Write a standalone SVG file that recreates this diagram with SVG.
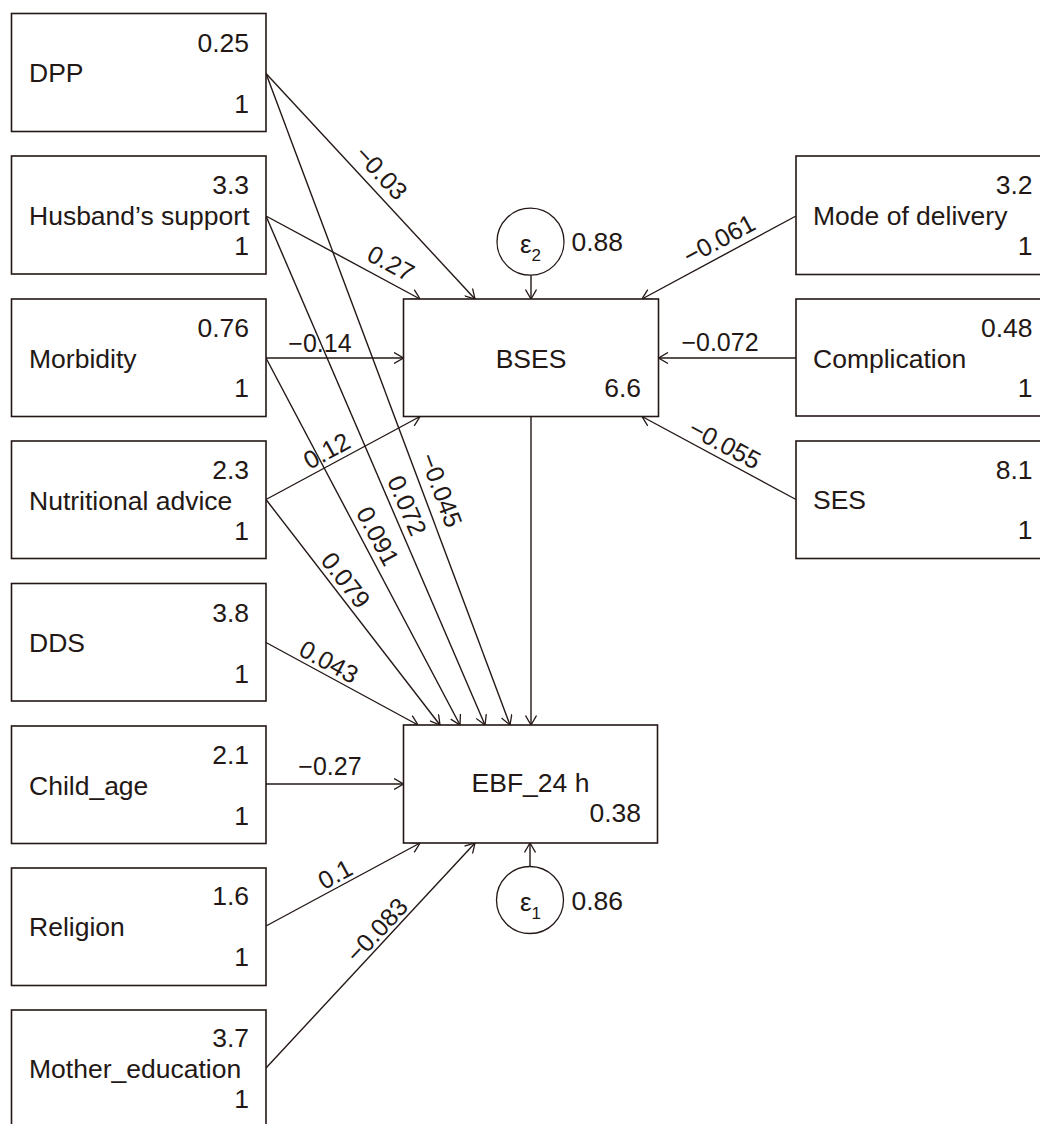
<svg xmlns="http://www.w3.org/2000/svg" width="1040" height="1124" viewBox="0 0 1040 1124">
<style>
.box{fill:#fff;stroke:#231815;stroke-width:1.6}
.c{fill:#fff;stroke:#231815;stroke-width:1.3}
.t{font-family:"Liberation Sans",Arial,sans-serif;font-size:26.5px;fill:#231815}
.r{text-anchor:end}
.m{text-anchor:middle}
.l{font-family:"Liberation Sans",Arial,sans-serif;font-size:25px;fill:#231815;text-anchor:middle}
.e{stroke:#231815;stroke-width:1.4;fill:none;marker-end:url(#ah)}
</style>
<defs>
<marker id="ah" viewBox="0 0 10 12" refX="10" refY="6" markerWidth="10" markerHeight="12" markerUnits="userSpaceOnUse" orient="auto">
<path d="M0.5,0.5 L10,6 L0.5,11.5" fill="none" stroke="#231815" stroke-width="1.3"/>
</marker>
</defs>
<rect width="1040" height="1124" fill="#fff"/>

<g id="connectors">
<line class="e" x1="266" y1="73.5" x2="475" y2="299"/>
<line class="e" x1="266" y1="216" x2="420" y2="299"/>
<line class="e" x1="266" y1="358" x2="403.5" y2="358"/>
<line class="e" x1="266" y1="499.5" x2="420" y2="416.5"/>
<line class="e" x1="796" y1="216" x2="642" y2="299"/>
<line class="e" x1="796" y1="358" x2="658.5" y2="358"/>
<line class="e" x1="796" y1="499.5" x2="642" y2="416.5"/>
<line class="e" x1="531" y1="275" x2="531" y2="299"/>
<line class="e" x1="266" y1="642.5" x2="418" y2="725"/>
<line class="e" x1="266" y1="499.5" x2="440" y2="725"/>
<line class="e" x1="266" y1="358" x2="460" y2="725"/>
<line class="e" x1="266" y1="216" x2="485" y2="725"/>
<line class="e" x1="266" y1="73.5" x2="510" y2="725"/>
<line class="e" x1="531" y1="416.5" x2="531" y2="725"/>
<line class="e" x1="266" y1="784" x2="403.5" y2="784"/>
<line class="e" x1="266" y1="926" x2="420" y2="843"/>
<line class="e" x1="266" y1="1068" x2="475" y2="843"/>
<line class="e" x1="530" y1="866.5" x2="530" y2="843"/>
<text class="l" transform="translate(381.5,172.5) rotate(47.2)" y="9">−0.03</text>
<text class="l" transform="translate(391,263) rotate(28.3)" y="9">0.27</text>
<text class="l" x="320" y="351.5">−0.14</text>
<text class="l" transform="translate(326.5,450.5) rotate(-28.6)" y="9">0.12</text>
<text class="l" transform="translate(378,536) rotate(62.1)" y="9">0.091</text>
<text class="l" transform="translate(407.5,505.5) rotate(66.7)" y="9">0.072</text>
<text class="l" transform="translate(441.5,490) rotate(69.5)" y="9">−0.045</text>
<text class="l" transform="translate(346,580) rotate(52.3)" y="9">0.079</text>
<text class="l" transform="translate(329,661.5) rotate(28.4)" y="9">0.043</text>
<text class="l" x="330" y="775">−0.27</text>
<text class="l" transform="translate(335,874) rotate(-28.3)" y="9">0.1</text>
<text class="l" transform="translate(376.7,930) rotate(-47)" y="9">−0.083</text>
<text class="l" transform="translate(719,239) rotate(-28.3)" y="9">−0.061</text>
<text class="l" x="720" y="351">−0.072</text>
<text class="l" transform="translate(725,444) rotate(28.3)" y="9">−0.055</text>
</g>

<g id="dpp"><rect class="box" x="11.5" y="13.5" width="254.5" height="118"/>
<text class="t r" x="249" y="51.5">0.25</text><text class="t" x="29" y="82">DPP</text><text class="t r" x="249" y="112.5">1</text></g>
<g id="husband"><rect class="box" x="11.5" y="156" width="254.5" height="118"/>
<text class="t r" x="249" y="194">3.3</text><text class="t" x="29" y="224.5">Husband’s support</text><text class="t r" x="249" y="255">1</text></g>
<g id="morbidity"><rect class="box" x="11.5" y="299" width="254.5" height="117.5"/>
<text class="t r" x="249" y="336.5">0.76</text><text class="t" x="29" y="367.5">Morbidity</text><text class="t r" x="249" y="397">1</text></g>
<g id="nutritional"><rect class="box" x="11.5" y="441" width="254.5" height="117.5"/>
<text class="t r" x="249" y="479">2.3</text><text class="t" x="29" y="509.5">Nutritional advice</text><text class="t r" x="249" y="540">1</text></g>
<g id="dds"><rect class="box" x="11.5" y="583.5" width="254.5" height="117.5"/>
<text class="t r" x="249" y="621.5">3.8</text><text class="t" x="29" y="652">DDS</text><text class="t r" x="249" y="682.5">1</text></g>
<g id="childage"><rect class="box" x="11.5" y="726" width="254.5" height="117.5"/>
<text class="t r" x="249" y="764">2.1</text><text class="t" x="29" y="794.5">Child_age</text><text class="t r" x="249" y="825">1</text></g>
<g id="religion"><rect class="box" x="11.5" y="868" width="254.5" height="117.5"/>
<text class="t r" x="249" y="905">1.6</text><text class="t" x="29" y="935.5">Religion</text><text class="t r" x="249" y="966">1</text></g>
<g id="mothered"><rect class="box" x="11.5" y="1010" width="254.5" height="118"/>
<text class="t r" x="249" y="1047">3.7</text><text class="t" x="29" y="1077.5">Mother_education</text><text class="t r" x="249" y="1108">1</text></g>

<g id="mode"><rect class="box" x="796" y="156" width="254.5" height="118.5"/>
<text class="t r" x="1032.5" y="194">3.2</text><text class="t" x="813" y="225">Mode of delivery</text><text class="t r" x="1032.5" y="255">1</text></g>
<g id="complication"><rect class="box" x="796" y="299" width="254.5" height="117"/>
<text class="t r" x="1032.5" y="336.5">0.48</text><text class="t" x="813" y="367.5">Complication</text><text class="t r" x="1032.5" y="397">1</text></g>
<g id="ses"><rect class="box" x="796" y="441" width="254.5" height="117.5"/>
<text class="t r" x="1032.5" y="478.5">8.1</text><text class="t" x="813" y="508.5">SES</text><text class="t r" x="1032.5" y="538.5">1</text></g>

<g id="bses"><rect class="box" x="403.5" y="299" width="255" height="117.5"/>
<text class="t m" x="531" y="367.5">BSES</text><text class="t r" x="641" y="396.5">6.6</text></g>
<g id="ebf"><rect class="box" x="403.5" y="725" width="254" height="118"/>
<text class="t m" x="530.5" y="792">EBF_24 h</text><text class="t r" x="641" y="822">0.38</text></g>

<g id="e2"><circle class="c" cx="530.5" cy="241.7" r="33.5"/>
<text class="t" x="520" y="253" style="font-size:26px">ε<tspan dy="8" style="font-size:17px">2</tspan></text>
<text class="t" x="571.5" y="250.5">0.88</text></g>
<g id="e1"><circle class="c" cx="530" cy="900" r="33.5"/>
<text class="t" x="520" y="911" style="font-size:26px">ε<tspan dy="8" style="font-size:17px">1</tspan></text>
<text class="t" x="571.5" y="910">0.86</text></g>
</svg>
